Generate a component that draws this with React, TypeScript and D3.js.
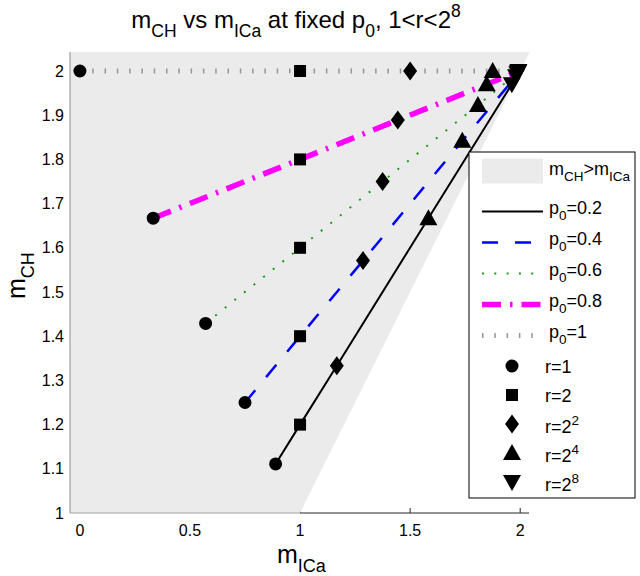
import React from "react";
import * as d3 from "d3";

// ---- data ----
const p0Values = [0.2, 0.4, 0.6, 0.8, 1];
const rLabels = ["1", "2", "2^2", "2^4", "2^8"];
const xTicks = [0, 0.5, 1, 1.5, 2];
const yTicks = [1, 1.1, 1.2, 1.3, 1.4, 1.5, 1.6, 1.7, 1.8, 1.9, 2];

const mICa_p02 = [0.889, 1.0, 1.167, 1.583, 1.962];
const mCH_p02 = [1.111, 1.2, 1.333, 1.667, 1.97];
const mICa_p04 = [0.75, 1.0, 1.286, 1.737, 1.981];
const mCH_p04 = [1.25, 1.4, 1.571, 1.842, 1.988];
const mICa_p06 = [0.571, 1.0, 1.375, 1.808, 1.987];
const mCH_p06 = [1.429, 1.6, 1.75, 1.923, 1.995];
const mICa_p08 = [0.333, 1.0, 1.444, 1.848, 1.99];
const mCH_p08 = [1.667, 1.8, 1.889, 1.97, 1.998];
const mICa_p10 = [0, 1.0, 1.5, 1.875, 1.992];
const mCH_p10 = [2, 2, 2, 2, 2];

const seriesX = [mICa_p02, mICa_p04, mICa_p06, mICa_p08, mICa_p10];
const seriesY = [mCH_p02, mCH_p04, mCH_p06, mCH_p08, mCH_p10];

// ---- styles ----
const lineStyles = [
  { color: "#000000", width: 2, dash: "none" },
  { color: "#0000ff", width: 2.5, dash: "16 17" },
  { color: "#1f9a1f", width: 2, dash: "2 10.3" },
  { color: "#ff00ff", width: 5.5, dash: "19 9 2.5 9" },
  { color: "#969696", width: 5, dash: "1.5 10.8" },
];
const markerKinds = ["circle", "square", "diamond", "triUp", "triDown"];

const FONT = "'Liberation Sans', Arial, Helvetica, sans-serif";
const W = 640;
const H = 576;
const X_DOMAIN = [-0.045, 2.04];
const Y_DOMAIN = [1, 2.043];
const AX = { left: 70, right: 529, top: 52, bottom: 513 };

function markerPath(kind: string, cx: number, cy: number): string {
  const p = d3.path();
  if (kind === "circle") {
    p.arc(cx, cy, 6.5, 0, Math.PI * 2);
  } else if (kind === "square") {
    p.rect(cx - 6, cy - 6, 12, 12);
  } else if (kind === "diamond") {
    p.moveTo(cx, cy - 9.5);
    p.lineTo(cx + 7, cy);
    p.lineTo(cx, cy + 9.5);
    p.lineTo(cx - 7, cy);
    p.closePath();
  } else if (kind === "triUp") {
    p.moveTo(cx, cy - 9);
    p.lineTo(cx + 9, cy + 7);
    p.lineTo(cx - 9, cy + 7);
    p.closePath();
  } else {
    p.moveTo(cx, cy + 9);
    p.lineTo(cx + 9, cy - 7);
    p.lineTo(cx - 9, cy - 7);
    p.closePath();
  }
  return p.toString();
}

type Piece = { t: string; kind: "n" | "sub" | "sup" };
function pieces(parts: Array<[string, "n" | "sub" | "sup"]>): Piece[] {
  return parts.map(([t, kind]) => ({ t, kind }));
}

function RichText(props: {
  x: number;
  y: number;
  parts: Piece[];
  size: number;
  subSize: number;
  anchor?: string;
  transform?: string;
}) {
  const { x, y, parts, size, subSize, anchor, transform } = props;
  const out: any[] = [];
  let level = 0;
  parts.forEach((pc, i) => {
    const target = pc.kind === "sub" ? size * 0.36 : pc.kind === "sup" ? -size * 0.45 : 0;
    const dy = target - level;
    level = target;
    out.push(
      <tspan key={i} dy={dy} fontSize={pc.kind === "n" ? size : subSize}>
        {pc.t}
      </tspan>
    );
  });
  return (
    <text
      x={x}
      y={y}
      fontFamily={FONT}
      fontSize={size}
      textAnchor={anchor || "start"}
      transform={transform}
      fill="#000"
    >
      {out}
    </text>
  );
}

function rParts(label: string): Piece[] {
  if (label.includes("^")) {
    const [b, e] = label.split("^");
    return pieces([["r=" + b, "n"], [e, "sup"]]);
  }
  return pieces([["r=" + label, "n"]]);
}

export default function App() {
  const x = d3.scaleLinear().domain(X_DOMAIN).range([AX.left, AX.right]);
  const y = d3.scaleLinear().domain(Y_DOMAIN).range([AX.bottom, AX.top]);

  const patch = [
    [X_DOMAIN[0], Y_DOMAIN[0]],
    [1, 1],
    [Y_DOMAIN[1], Y_DOMAIN[1]],
    [X_DOMAIN[0], Y_DOMAIN[1]],
  ];
  const patchPts = patch.map(([a, b]) => `${x(a)},${y(b)}`).join(" ");

  const seriesPaths = seriesX.map((xs, s) => {
    const pts = xs.map((v, i) => [x(v), y(seriesY[s][i])] as [number, number]);
    return d3.line()(pts) as string;
  });

  // legend geometry
  const LG = { left: 469, top: 152, right: 635, bottom: 498 };
  const patchRowY = 171;
  const lineRowY = (i: number) => 211.5 + 31 * i;
  const markRowY = (j: number) => 366 + 29 * j;
  const LFS = 18;
  const LSUB = 13.5;

  return (
    <svg
      width={W}
      height={H}
      style={{ position: "absolute", left: 0, top: 0, background: "#fff" }}
    >
      <rect x={0} y={0} width={W} height={H} fill="#fff" />
      {/* title */}
      <RichText
        x={296}
        y={28}
        size={24}
        subSize={17.5}
        anchor="middle"
        parts={pieces([
          ["m", "n"],
          ["CH", "sub"],
          [" vs m", "n"],
          ["ICa", "sub"],
          [" at fixed p", "n"],
          ["0", "sub"],
          [", 1<r<2", "n"],
          ["8", "sup"],
        ])}
      />

      {/* ticks (under the patch) */}
      {xTicks.map((t) => (
        <line key={"xt" + t} x1={x(t)} x2={x(t)} y1={AX.bottom} y2={AX.bottom - 5} stroke="#262626" strokeWidth={1} />
      ))}
      {/* shaded region m_CH > m_ICa */}
      <polygon points={patchPts} fill="#ebebeb" stroke="none" />

      {/* axes lines */}
      <line x1={AX.left} x2={AX.left} y1={AX.top} y2={AX.bottom} stroke="#8c8c8c" strokeWidth={1} />
      <line x1={AX.left} x2={x(1)} y1={AX.bottom} y2={AX.bottom} stroke="#a0a0a0" strokeWidth={1} />
      <line x1={x(1)} x2={AX.right} y1={AX.bottom} y2={AX.bottom} stroke="#262626" strokeWidth={1} />

      {/* tick labels */}
      {xTicks.map((t) => (
        <text key={"xl" + t} x={x(t)} y={AX.bottom + 23} textAnchor="middle" fontFamily={FONT} fontSize={16} fill="#000">
          {d3.format("~g")(t)}
        </text>
      ))}
      {yTicks.map((t) => (
        <text key={"yl" + t} x={AX.left - 6} y={y(t) + 5.5} textAnchor="end" fontFamily={FONT} fontSize={16} fill="#000">
          {d3.format("~g")(Math.round(t * 10) / 10)}
        </text>
      ))}

      {/* axis labels */}
      <RichText
        x={277}
        y={563}
        size={25}
        subSize={18}
        parts={pieces([["m", "n"], ["ICa", "sub"]])}
      />
      <RichText
        x={0}
        y={0}
        size={25}
        subSize={18}
        transform={`translate(25,299) rotate(-90)`}
        parts={pieces([["m", "n"], ["CH", "sub"]])}
      />

      {/* lines */}
      {seriesPaths.map((d, s) => (
        <path
          key={"ln" + s}
          d={d}
          fill="none"
          stroke={lineStyles[s].color}
          strokeWidth={lineStyles[s].width}
          strokeDasharray={lineStyles[s].dash}
          strokeLinecap="butt"
        />
      ))}

      {/* markers */}
      {markerKinds.map((k, j) =>
        seriesX.map((xs, s) => (
          <path key={"mk" + j + "-" + s} d={markerPath(k, x(xs[j]), y(seriesY[s][j]))} fill="#000" />
        ))
      )}

      {/* legend */}
      <rect x={LG.left} y={LG.top} width={LG.right - LG.left} height={LG.bottom - LG.top} fill="#fff" stroke="#000" strokeWidth={1} />
      <rect x={482} y={patchRowY - 12.5} width={61} height={25} fill="#ebebeb" />
      <RichText
        x={549}
        y={patchRowY + 4}
        size={LFS}
        subSize={LSUB}
        parts={pieces([["m", "n"], ["CH", "sub"], [">m", "n"], ["ICa", "sub"]])}
      />
      {p0Values.map((p, i) => (
        <g key={"lg" + i}>
          <line
            x1={482}
            x2={543}
            y1={lineRowY(i)}
            y2={lineRowY(i)}
            stroke={lineStyles[i].color}
            strokeWidth={lineStyles[i].width}
            strokeDasharray={lineStyles[i].dash}
          />
          <RichText
            x={549}
            y={lineRowY(i) + 2}
            size={LFS}
            subSize={LSUB}
            parts={pieces([["p", "n"], ["0", "sub"], ["=" + p, "n"]])}
          />
        </g>
      ))}
      {rLabels.map((r, j) => (
        <g key={"lm" + j}>
          <path d={markerPath(markerKinds[j], 512, markRowY(j))} fill="#000" />
          <RichText
            x={545}
            y={markRowY(j) + (r.includes("^") ? 9 : 6.5)}
            size={LFS}
            subSize={LSUB}
            parts={rParts(r)}
          />
        </g>
      ))}
    </svg>
  );
}
